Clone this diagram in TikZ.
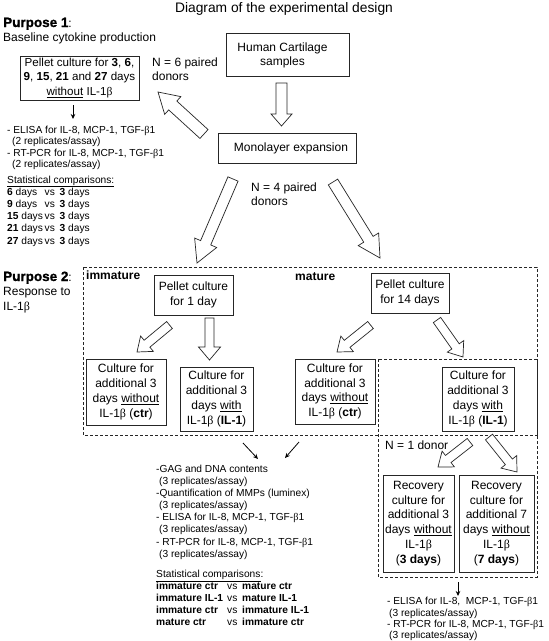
\documentclass[tikz,border=0pt]{standalone}
\usepackage{fontspec}
\setmainfont{Liberation Sans}
\newfontfamily\grk{Liberation Serif}
\newfontfamily\heavyfont{Liberation Sans Bold}[FakeBold=1]
\usetikzlibrary{calc,arrows.meta}
\newcommand\bet{{\grk β}}
% hollow block arrow: tail, tip, shaft half width, head half width, head length
\newcommand\harrow[5]{%
  \coordinate (hs) at ($(#2)!#5!(#1)$);
  \draw[hollow] ($(#1)!#3!90:(#2)$) -- ($(hs)!#3!90:(#2)$) -- ($(hs)!#4!90:(#2)$) -- (#2)
    -- ($(hs)!#4!-90:(#2)$) -- ($(hs)!#3!-90:(#2)$) -- ($(#1)!#3!-90:(#2)$) -- cycle;}
\begin{document}
\begin{tikzpicture}[x=1pt,y=-1pt,
  box/.style={draw=black!85, line width=0.8pt, align=center, inner sep=0pt, font=\fontsize{12}{14.8}\selectfont},
  boxtext/.style={inner sep=0pt, align=center, font=\fontsize{12}{14.4}\selectfont},
  txt/.style={inner sep=0pt, anchor=base west, font=\fontsize{12}{14.8}\selectfont},
  lst/.style={inner sep=0pt, anchor=base west, font=\fontsize{10.2}{12}\selectfont},
  hollow/.style={draw=black!85, fill=white, line width=0.7pt, line join=miter},
  smallarrow/.style={draw=black, line width=0.8pt, -{Stealth[length=5pt,width=4.5pt]}},
  dashbox/.style={draw=black!85, dash pattern=on 3pt off 2pt, line width=0.8pt}]
\fill[white] (0,0) rectangle (549,641);
\clip (0,0) rectangle (549,641);

% title and purpose 1
\node[inner sep=0pt, anchor=base, font=\fontsize{13.8}{16}\selectfont] (title) at (284,12.3) {Diagram of the experimental design};
\node[txt] (p1h) at (3,27) {{\heavyfont\fontsize{13.5}{16}\selectfont Purpose 1}:};
\node[txt] (p1s) at (3,41) {Baseline cytokine production};
\node[txt] (n6a) at (152,66) {N = 6 paired};
\node[txt] (n6b) at (152,80) {donors};

% top boxes
\node[box, minimum width=119pt, minimum height=44pt, font=\fontsize{11.6}{14.6}\selectfont] (pel) at (79.5,78)
  {Pellet culture for \textbf{3}, \textbf{6},\\ \textbf{9}, \textbf{15}, \textbf{21} and \textbf{27} days\\ \underline{without} IL-1\bet};
\node[box, minimum width=123pt, minimum height=43pt] (hc) at (287.5,54.5) {};
\node[boxtext] (hct) at (282.5,55.5) {Human Cartilage\\ samples};
\node[box, minimum width=138pt, minimum height=30pt] (mono) at (287,148) {};
\node[boxtext] (monot) at (291,148.5) {Monolayer expansion};

% purpose 1 list
\node[lst] (l1) at (7,133.9) {- ELISA for IL-8, MCP-1, TGF-\bet1};
\node[lst] (l2) at (12,144.9) {(2 replicates/assay)};
\node[lst] (l3) at (7,156.9) {- RT-PCR for IL-8, MCP-1, TGF-\bet1};
\node[lst] (l4) at (12,167.9) {(2 replicates/assay)};
\node[lst] (l5) at (7,183) {\underline{Statistical comparisons:}};
\node[lst] (r1) at (7,195) {\makebox[37.5pt][l]{\textbf{6} days}\makebox[15pt][l]{vs}\textbf{3} days};
\node[lst] (r2) at (7,207) {\makebox[37.5pt][l]{\textbf{9} days}\makebox[15pt][l]{vs}\textbf{3} days};
\node[lst] (r3) at (7,219.5) {\makebox[37.5pt][l]{\textbf{15} days}\makebox[15pt][l]{vs}\textbf{3} days};
\node[lst] (r4) at (7,231.8) {\makebox[37.5pt][l]{\textbf{21} days}\makebox[15pt][l]{vs}\textbf{3} days};
\node[lst] (r5) at (7,244) {\makebox[37.5pt][l]{\textbf{27} days}\makebox[15pt][l]{vs}\textbf{3} days};

\node[txt] (n4a) at (251,191) {N = 4 paired};
\node[txt] (n4b) at (251,205) {donors};

% purpose 2
\node[txt] (p2h) at (3,281) {{\heavyfont\fontsize{13.5}{16}\selectfont Purpose 2}:};
\node[txt] (p2s) at (3,295.5) {Response to};
\node[txt] (p2t) at (3,310) {IL-1\bet};

\draw[dashbox] (83,267) rectangle (537,435);
\draw[dashbox] (378,359) rectangle (537,577);

\node[txt, font=\fontsize{12}{14.8}\selectfont\bfseries] (imm) at (86,279.5) {immature};
\node[txt, font=\fontsize{12}{14.8}\selectfont\bfseries] (mat) at (295,280.5) {mature};

\node[box, minimum width=79pt, minimum height=40pt] (p1d) at (193.5,295) {Pellet culture\\ for 1 day};
\node[box, minimum width=78pt, minimum height=40pt] (p14) at (410,293) {Pellet culture\\ for 14 days};

\node[box, minimum width=80pt, minimum height=66pt] (ca) at (126,392)
  {Culture for\\ additional 3\\ days \underline{without}\\ IL-1\bet{} (\textbf{ctr})};
\node[box, minimum width=73pt, minimum height=64pt] (cb) at (216.5,399)
  {Culture for\\ additional 3\\ days \underline{with}\\ IL-1\bet{} (\textbf{IL-1})};
\node[box, minimum width=80pt, minimum height=65pt] (cc) at (335,391.5)
  {Culture for\\ additional 3\\ days \underline{without}\\ IL-1\bet{} (\textbf{ctr})};
\node[box, minimum width=72pt, minimum height=64pt] (cd) at (478,399)
  {Culture for\\ additional 3\\ days \underline{with}\\ IL-1\bet{} (\textbf{IL-1})};

\node[txt] (n1) at (385,449) {N = 1 donor};

\node[box, minimum width=71pt, minimum height=97pt] (re) at (418.5,523.5)
  {Recovery\\ culture for\\ additional 3\\ days \underline{without}\\ IL-1\bet\\ (\textbf{3 days})};
\node[box, minimum width=75pt, minimum height=97pt] (rf) at (496.5,523.5)
  {Recovery\\ culture for\\ additional 7\\ days \underline{without}\\ IL-1\bet\\ (\textbf{7 days})};

% middle list
\node[lst] (m1) at (156,472.7) {-GAG and DNA contents};
\node[lst] (m2) at (159,484.7) {(3 replicates/assay)};
\node[lst] (m3) at (156,496.7) {-Quantification of MMPs (luminex)};
\node[lst] (m4) at (159,508.7) {(3 replicates/assay)};
\node[lst] (m5) at (156,520.7) {- ELISA for IL-8, MCP-1, TGF-\bet1};
\node[lst] (m6) at (159,532.7) {(3 replicates/assay)};
\node[lst] (m7) at (156,545.7) {- RT-PCR for IL-8, MCP-1, TGF-\bet1};
\node[lst] (m8) at (159,557.7) {(3 replicates/assay)};
\node[lst] (m9) at (156,577.7) {\underline{Statistical comparisons}:};
\node[lst] (mc1) at (156,589.7) {\makebox[71pt][l]{\textbf{immature ctr}}\makebox[15pt][l]{vs}\textbf{mature ctr}};
\node[lst] (mc2) at (156,601.7) {\makebox[71pt][l]{\textbf{immature IL-1}}\makebox[15pt][l]{vs}\textbf{mature IL-1}};
\node[lst] (mc3) at (156,613.7) {\makebox[71pt][l]{\textbf{immature ctr}}\makebox[15pt][l]{vs}\textbf{immature IL-1}};
\node[lst] (mc4) at (156,625.7) {\makebox[71pt][l]{\textbf{mature ctr}}\makebox[15pt][l]{vs}\textbf{immature ctr}};

% bottom right list
\node[lst] (b1) at (387,604.5) {- ELISA for IL-8,\ \ MCP-1, TGF-\bet1};
\node[lst] (b2) at (389,616) {(3 replicates/assay)};
\node[lst] (b3) at (387,627.5) {- RT-PCR for IL-8, MCP-1, TGF-\bet1};
\node[lst] (b4) at (389,638.3) {(3 replicates/assay)};

% hollow arrows
\coordinate (a1t) at (281.5,83);  \coordinate (a1h) at (281.5,126);
\coordinate (a2t) at (204,134);   \coordinate (a2h) at (158,92);
\coordinate (a3t) at (233,179);   \coordinate (a3h) at (197,263);
\coordinate (a4t) at (333,182);   \coordinate (a4h) at (380,258);
\coordinate (a5t) at (169.5,325); \coordinate (a5h) at (137,352);
\coordinate (a6t) at (209.5,318); \coordinate (a6h) at (209.5,360);
\coordinate (a7t) at (370.5,325); \coordinate (a7h) at (337,352);
\coordinate (a8t) at (437,320);   \coordinate (a8h) at (463,357);
\coordinate (a9t) at (470,442);   \coordinate (a9h) at (438,467);
\coordinate (a10t) at (489,437);  \coordinate (a10h) at (517,472);
\harrow{a1t}{a1h}{5.5pt}{10.5pt}{12pt}
\harrow{a2t}{a2h}{6pt}{12pt}{20pt}
\harrow{a3t}{a3h}{5.5pt}{12pt}{22pt}
\harrow{a4t}{a4h}{5.5pt}{12pt}{22pt}
\harrow{a5t}{a5h}{4.5pt}{10pt}{13pt}
\harrow{a6t}{a6h}{4.5pt}{11pt}{13pt}
\harrow{a7t}{a7h}{4.5pt}{10pt}{13pt}
\harrow{a8t}{a8h}{4.5pt}{10pt}{13pt}
\harrow{a9t}{a9h}{4.5pt}{10pt}{13pt}
\harrow{a10t}{a10h}{4.5pt}{10pt}{13pt}

% small arrows
\coordinate (s1a) at (73,105);  \coordinate (s1b) at (73,119);
\coordinate (s2a) at (243,443); \coordinate (s2b) at (258,459);
\coordinate (s3a) at (299,442); \coordinate (s3b) at (285,458);
\coordinate (s4a) at (458,582); \coordinate (s4b) at (458,596);
\draw[smallarrow] (s1a) -- (s1b);
\draw[smallarrow] (s2a) -- (s2b);
\draw[smallarrow] (s3a) -- (s3b);
\draw[smallarrow] (s4a) -- (s4b);
\end{tikzpicture}
\end{document}
